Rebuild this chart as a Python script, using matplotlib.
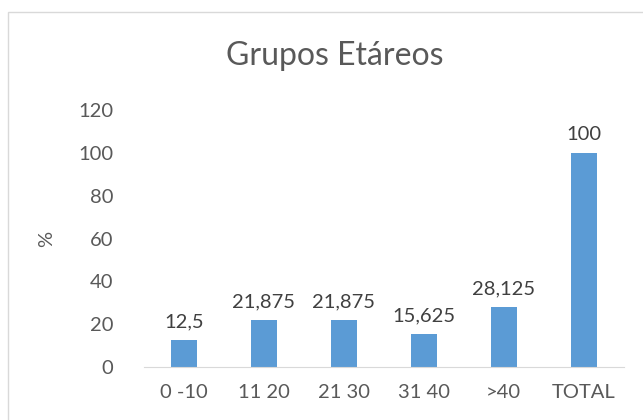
import matplotlib
matplotlib.use("Agg")
import matplotlib.pyplot as plt
from matplotlib.patches import Rectangle

categories = ["0 -10", "11 20", "21 30", "31 40", ">40", "TOTAL"]
values = [12.5, 21.875, 21.875, 15.625, 28.125, 100]
value_labels = ["12,5", "21,875", "21,875", "15,625", "28,125", "100"]
yticks = [0, 20, 40, 60, 80, 100, 120]

plt.rcParams['font.family'] = ['Lato', 'DejaVu Sans']

fig = plt.figure(figsize=(6.43, 4.2), dpi=100)
ax = fig.add_axes([0.224, 0.126, 0.746, 0.612])

# chart frame
fig.patches.append(Rectangle((8 / 643, -0.05), 1.2, 1 - 12 / 420 + 0.05,
                             transform=fig.transFigure, fill=False,
                             edgecolor='#d9d9d9', linewidth=1.0))

x = range(len(categories))
ax.bar(x, values, width=0.33, color='#5b9bd5')
for xi, v, lab in zip(x, values, value_labels):
    ax.annotate(lab, (xi, v), xytext=(0, 7), textcoords='offset points',
                ha='center', va='bottom', fontsize=14.5, color='#404040')

ax.set_xlim(-0.5, len(categories) - 0.5)
ax.set_ylim(0, 120)
ax.set_yticks(yticks)
ax.set_xticks(list(x))
ax.set_xticklabels(categories)
ax.tick_params(axis='both', length=0, labelsize=14.5, colors='#595959')
ax.tick_params(axis='y', pad=22)
ax.tick_params(axis='x', pad=12)
for s in ['top', 'right', 'left']:
    ax.spines[s].set_visible(False)
ax.spines['bottom'].set_color('#d9d9d9')
ax.set_ylabel('%', fontsize=14.5, color='#595959', labelpad=17)

fig.text(0.521, 0.866, 'Grupos Etáreos', ha='center', va='center',
         fontsize=23, color='#595959')

fig.savefig('out.png', dpi=100)
